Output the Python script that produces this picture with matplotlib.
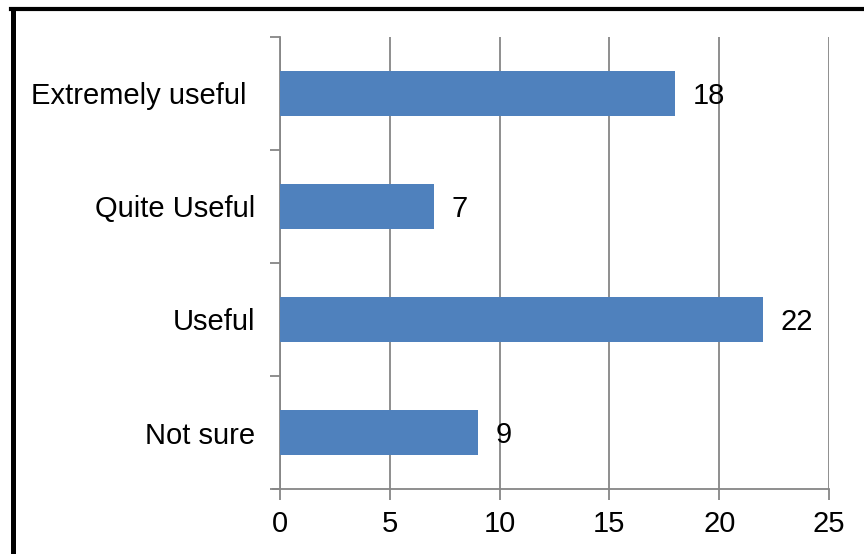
import matplotlib
matplotlib.use("Agg")
import matplotlib.pyplot as plt
from matplotlib.lines import Line2D

categories = ["Extremely useful ", "Quite Useful", "Useful", "Not sure"]
values = [18, 7, 22, 9]
xticks = [0, 5, 10, 15, 20, 25]

plt.rcParams['font.family'] = ['Liberation Sans', 'DejaVu Sans']

fig = plt.figure(figsize=(8.64, 5.54), dpi=100)
ax = fig.add_axes([280/864, 1-489/554, (829-280)/864, (489-37)/554])

gray = "#868686"
fs = 21
pos = list(range(len(categories)))[::-1]
ax.barh(pos, values, height=0.4, color="#4F81BD", zorder=3)
for p, v in zip(pos, values):
    ax.text(v + 0.8, p - 0.02, str(v), va="center", ha="left", fontsize=fs, zorder=4)

ax.set_xlim(0, 25)
ax.set_ylim(-0.5, len(categories) - 0.5)
ax.set_xticks(xticks)
ax.set_xticklabels([str(t) for t in xticks], fontsize=fs)
ax.xaxis.grid(True, color=gray, lw=1.3, zorder=0)
ax.tick_params(axis='x', direction='out', length=8, width=1.3, color=gray, pad=7)

ax.set_yticks([i - 0.5 for i in range(len(categories) + 1)])
ax.set_yticklabels([])
ax.set_yticks(pos, minor=True)
ax.set_yticklabels(categories, minor=True, fontsize=fs)
ax.tick_params(axis='y', which='major', direction='out', length=7, width=1.3, color=gray)
ax.tick_params(axis='y', which='minor', length=0, pad=18)

for s in ['top', 'right']:
    ax.spines[s].set_visible(False)
for s in ['left', 'bottom']:
    ax.spines[s].set_color(gray)
    ax.spines[s].set_linewidth(1.3)
ax.spines['bottom'].set_bounds(-0.3, 25)
ax.spines['bottom'].set_clip_on(False)

# figure border (left and top)
fig.add_artist(Line2D([12.5/864, 12.5/864], [0, 1-9/554], color='black', lw=3.6, transform=fig.transFigure))
fig.add_artist(Line2D([10.5/864, 1], [1-9/554, 1-9/554], color='black', lw=3.0, transform=fig.transFigure))

fig.savefig("out.png", dpi=100)
